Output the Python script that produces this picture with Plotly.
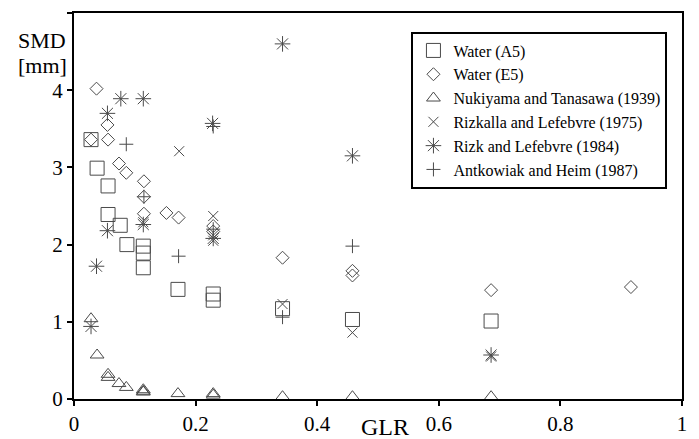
import plotly.graph_objects as go

# ---- data ----
a5_x = [0.028, 0.038, 0.056, 0.056, 0.076, 0.087, 0.114, 0.114, 0.114, 0.171, 0.229, 0.229, 0.343, 0.458, 0.686]
a5_y = [3.36, 2.99, 2.76, 2.39, 2.25, 2.00, 1.98, 1.89, 1.70, 1.42, 1.36, 1.28, 1.17, 1.03, 1.01]

e5_x = [0.028, 0.037, 0.055, 0.056, 0.074, 0.086, 0.115, 0.115, 0.115, 0.152, 0.172, 0.229, 0.229, 0.343, 0.458, 0.458, 0.686, 0.916]
e5_y = [3.36, 4.02, 3.55, 3.36, 3.05, 2.93, 2.82, 2.62, 2.40, 2.41, 2.35, 2.24, 2.17, 1.83, 1.66, 1.60, 1.41, 1.45]

nt_x = [0.028, 0.038, 0.056, 0.056, 0.074, 0.086, 0.114, 0.114, 0.114, 0.171, 0.229, 0.229, 0.343, 0.458, 0.686]
nt_y = [1.04, 0.57, 0.32, 0.28, 0.20, 0.15, 0.12, 0.10, 0.09, 0.07, 0.07, 0.05, 0.03, 0.03, 0.03]

rl_x = [0.173, 0.114, 0.229, 0.229, 0.229, 0.343, 0.458, 0.686]
rl_y = [3.21, 2.29, 2.37, 2.12, 2.05, 1.23, 0.86, 0.55]

rk_x = [0.028, 0.037, 0.055, 0.055, 0.077, 0.114, 0.114, 0.228, 0.229, 0.343, 0.458, 0.686]
rk_y = [0.94, 1.72, 3.70, 2.18, 3.89, 3.89, 2.26, 3.57, 2.08, 4.60, 3.15, 0.57]

ah_x = [0.086, 0.115, 0.172, 0.229, 0.229, 0.343, 0.458]
ah_y = [3.30, 2.62, 1.85, 3.53, 2.20, 1.06, 1.98]

names = ["Water (A5)", "Water (E5)", "Nukiyama and Tanasawa (1939)",
         "Rizkalla and Lefebvre (1975)", "Rizk and Lefebvre (1984)",
         "Antkowiak and Heim (1987)"]

x_ticks = [0, 0.2, 0.4, 0.6, 0.8, 1]
x_tick_text = ["0", "0.2", "0.4", "0.6", "0.8", "1"]
y_ticks = [0, 1, 2, 3, 4, 5]

FONT = "Times New Roman, Liberation Serif, serif"
MC = "#4a4a4a"

series = [
    (a5_x, a5_y, "square-open", 14),
    (e5_x, e5_y, "diamond-open", 10),
    (nt_x, nt_y, "triangle-up-open", 12),
    (rl_x, rl_y, "x-thin-open", 10),
    (rk_x, rk_y, "asterisk-open", 13),
    (ah_x, ah_y, "cross-thin-open", 10),
]

fig = go.Figure()
for (xs, ys, sym, sz), nm in zip(series, names):
    fig.add_trace(go.Scatter(
        x=xs, y=ys, mode="markers", name=nm,
        marker=dict(symbol=sym, size=sz, color=MC,
                    line=dict(color=MC, width=1)),
    ))

axis_common = dict(
    showgrid=False, zeroline=False, showline=True, linecolor="black",
    linewidth=2, mirror=True, ticks="outside", ticklen=5, tickwidth=2,
    tickcolor="black", tickfont=dict(family=FONT, size=21, color="black"),
    automargin=False,
)

fig.update_xaxes(range=[0, 1], tickvals=x_ticks, ticktext=x_tick_text, **axis_common)
fig.update_yaxes(range=[0, 5], tickvals=y_ticks, **axis_common)

fig.update_layout(
    width=691, height=431,
    margin=dict(l=66, r=17, t=5, b=40),
    paper_bgcolor="white", plot_bgcolor="white",
    font=dict(family=FONT, color="black"),
    legend=dict(
        x=0.555, y=0.952, xanchor="left", yanchor="top",
        bordercolor="black", borderwidth=2, bgcolor="white",
        font=dict(family=FONT, size=16, color="black"),
        itemwidth=30, tracegroupgap=0,
    ),
    annotations=[
        dict(text="SMD", xref="paper", yref="paper", x=-0.0526, y=0.9275,
             xanchor="center", yanchor="middle", showarrow=False,
             font=dict(family=FONT, size=22, color="black")),
        dict(text="[mm]", xref="paper", yref="paper", x=-0.0526, y=0.8627,
             xanchor="center", yanchor="middle", showarrow=False,
             font=dict(family=FONT, size=22, color="black")),
        dict(text="GLR", xref="paper", yref="paper", x=0.5115, y=-0.072,
             xanchor="center", yanchor="middle", showarrow=False,
             font=dict(family=FONT, size=24, color="black")),
    ],
)

fig.write_html("out.html")
